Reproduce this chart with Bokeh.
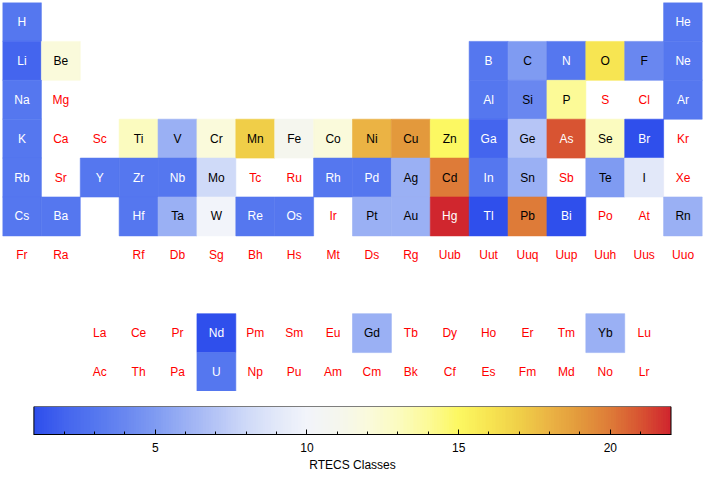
import numpy as np
from bokeh.plotting import figure
from bokeh.layouts import column
from bokeh.models import ColumnDataSource, Range1d, FixedTicker, LinearColorMapper
from bokeh.transform import linear_cmap
from bokeh.core.properties import value
from bokeh.embed import file_html
from bokeh.resources import INLINE

NaN = float("nan")

# Element symbols, their table row (period) and column (group)
symbols = [
    "H", "He",
    "Li", "Be", "B", "C", "N", "O", "F", "Ne",
    "Na", "Mg", "Al", "Si", "P", "S", "Cl", "Ar",
    "K", "Ca", "Sc", "Ti", "V", "Cr", "Mn", "Fe", "Co", "Ni", "Cu", "Zn", "Ga", "Ge", "As", "Se", "Br", "Kr",
    "Rb", "Sr", "Y", "Zr", "Nb", "Mo", "Tc", "Ru", "Rh", "Pd", "Ag", "Cd", "In", "Sn", "Sb", "Te", "I", "Xe",
    "Cs", "Ba", "Hf", "Ta", "W", "Re", "Os", "Ir", "Pt", "Au", "Hg", "Tl", "Pb", "Bi", "Po", "At", "Rn",
    "Fr", "Ra", "Rf", "Db", "Sg", "Bh", "Hs", "Mt", "Ds", "Rg", "Uub", "Uut", "Uuq", "Uup", "Uuh", "Uus", "Uuo",
    "La", "Ce", "Pr", "Nd", "Pm", "Sm", "Eu", "Gd", "Tb", "Dy", "Ho", "Er", "Tm", "Yb", "Lu",
    "Ac", "Th", "Pa", "U", "Np", "Pu", "Am", "Cm", "Bk", "Cf", "Es", "Fm", "Md", "No", "Lr",
]
periods = ([1] * 2 + [2] * 8 + [3] * 8 + [4] * 18 + [5] * 18 + [6] * 17 + [7] * 17
           + [9] * 15 + [10] * 15)
groups = ([1, 18]
          + [1, 2] + list(range(13, 19))
          + [1, 2] + list(range(13, 19))
          + list(range(1, 19))
          + list(range(1, 19))
          + [1, 2] + list(range(4, 19))
          + [1, 2] + list(range(4, 19))
          + list(range(3, 18))
          + list(range(3, 18)))

# Number of RTECS classes (NaN = no data)
rtecs = [
    3, 3,
    2, 12, 3, 5, 3, 16, 4, 3,
    3, NaN, 3, 4, 14, NaN, NaN, 3,
    3, NaN, NaN, 13, 6, 12, 17, 11, 12, 18, 19, 15, 2, 7, 21, 13, 1, NaN,
    3, NaN, 3, 3, 3, 8, NaN, NaN, 3, 3, 6, 20, 3, 6, NaN, 5, 9, NaN,
    3, 3, 3, 6, 10, 3, 3, NaN, 6, 6, 22, 1, 20, 1, NaN, NaN, 6,
    NaN, NaN, NaN, NaN, NaN, NaN, NaN, NaN, NaN, NaN, NaN, NaN, NaN, NaN, NaN, NaN, NaN,
    NaN, NaN, NaN, 1, NaN, NaN, NaN, 6, NaN, NaN, NaN, NaN, NaN, 6, NaN,
    NaN, NaN, NaN, 3, NaN, NaN, NaN, NaN, NaN, NaN, NaN, NaN, NaN, NaN, NaN,
]

low, high = 1, 22
colorbar_ticks = [5, 10, 15, 20]

# Temperature-map like palette (blue -> white -> yellow -> red)
stops = ["#2F4FEC", "#4465EE", "#5577EF", "#6A88F0", "#809CF2", "#9CB1F4", "#B6C5F6",
         "#CFDAF8", "#E2E8F9", "#F2F4FA", "#F5F6EE", "#FAFADC", "#FBFBC0", "#FCFA98",
         "#FCF862", "#F7E552", "#F0D048", "#EBB444", "#E39A3C", "#DE7C38", "#D85532", "#D0262E"]
stop_rgb = np.array([[int(s[i:i + 2], 16) for i in (1, 3, 5)] for s in stops], float)
sp = np.linspace(0, 1, len(stops))
tt = np.linspace(0, 1, 256)
pal_rgb = np.stack([np.interp(tt, sp, stop_rgb[:, k]) for k in range(3)], axis=1)
palette = ["#%02x%02x%02x" % tuple(int(round(c)) for c in row) for row in pal_rgb]

FONT = "Liberation Sans"

vals = np.array(rtecs, float)
has = ~np.isnan(vals)
text_colors = ["#FF0000" if np.isnan(v) else ("white" if (v <= 3 or v >= 21) else "black") for v in vals]

src_all = ColumnDataSource(dict(sym=symbols, period=periods, group=groups, tc=text_colors))
src_cells = ColumnDataSource(dict(
    period=[p for p, h in zip(periods, has) if h],
    group=[g for g, h in zip(groups, has) if h],
    rtecs=[v for v, h in zip(rtecs, has) if h],
))

p = figure(width=704, height=391, x_range=Range1d(0.5, 18.5), y_range=Range1d(10.5, 0.5),
           output_backend="svg", toolbar_location=None, min_border=0,
           min_border_left=2, min_border_right=2, min_border_top=2)
p.axis.visible = False
p.grid.visible = False
p.outline_line_color = None
cmap = linear_cmap("rtecs", palette, low, high)
p.rect(x="group", y="period", width=1, height=1, source=src_cells,
       fill_color=cmap, line_color=cmap, line_width=0.6)
p.text(x="group", y="period", text="sym", source=src_all, text_align="center",
       text_baseline="middle", text_color="tc", text_font=value(FONT), text_font_size="12px")

# Colour bar as its own figure (same side borders so the frames line up)
cb = figure(width=704, height=83, x_range=Range1d(-0.035, 23.038), y_range=Range1d(0, 1),
            output_backend="svg", toolbar_location=None, min_border=0,
            min_border_left=2, min_border_right=2, min_border_top=15)
mapper = LinearColorMapper(palette=palette, low=low, high=high)
cb.image(image=[np.linspace(low, high, 700)[None, :]], x=low, y=0, dw=high - low, dh=1,
         color_mapper=mapper)
cb.quad(left=low, right=high, bottom=0, top=1, fill_color=None, line_color="black", line_width=1)
cb.grid.visible = False
cb.yaxis.visible = False
cb.outline_line_color = None
ax = cb.xaxis[0]
ax.bounds = (low, high)
ax.ticker = FixedTicker(ticks=colorbar_ticks, minor_ticks=list(range(low + 1, high)))
ax.major_tick_in = 5
ax.major_tick_out = 0
ax.minor_tick_in = 3
ax.minor_tick_out = 0
ax.axis_line_color = "black"
ax.major_label_text_font = FONT
ax.major_label_text_font_size = "12px"
ax.major_label_text_color = "black"
ax.axis_label = "RTECS Classes"
ax.axis_label_text_font = FONT
ax.axis_label_text_font_size = "12px"
ax.axis_label_text_font_style = "normal"
ax.axis_label_text_color = "black"
ax.axis_label_standoff = 3
ax.major_label_standoff = 8

layout = column(p, cb, spacing=0)
open("out.html", "w").write(file_html(layout, INLINE))
